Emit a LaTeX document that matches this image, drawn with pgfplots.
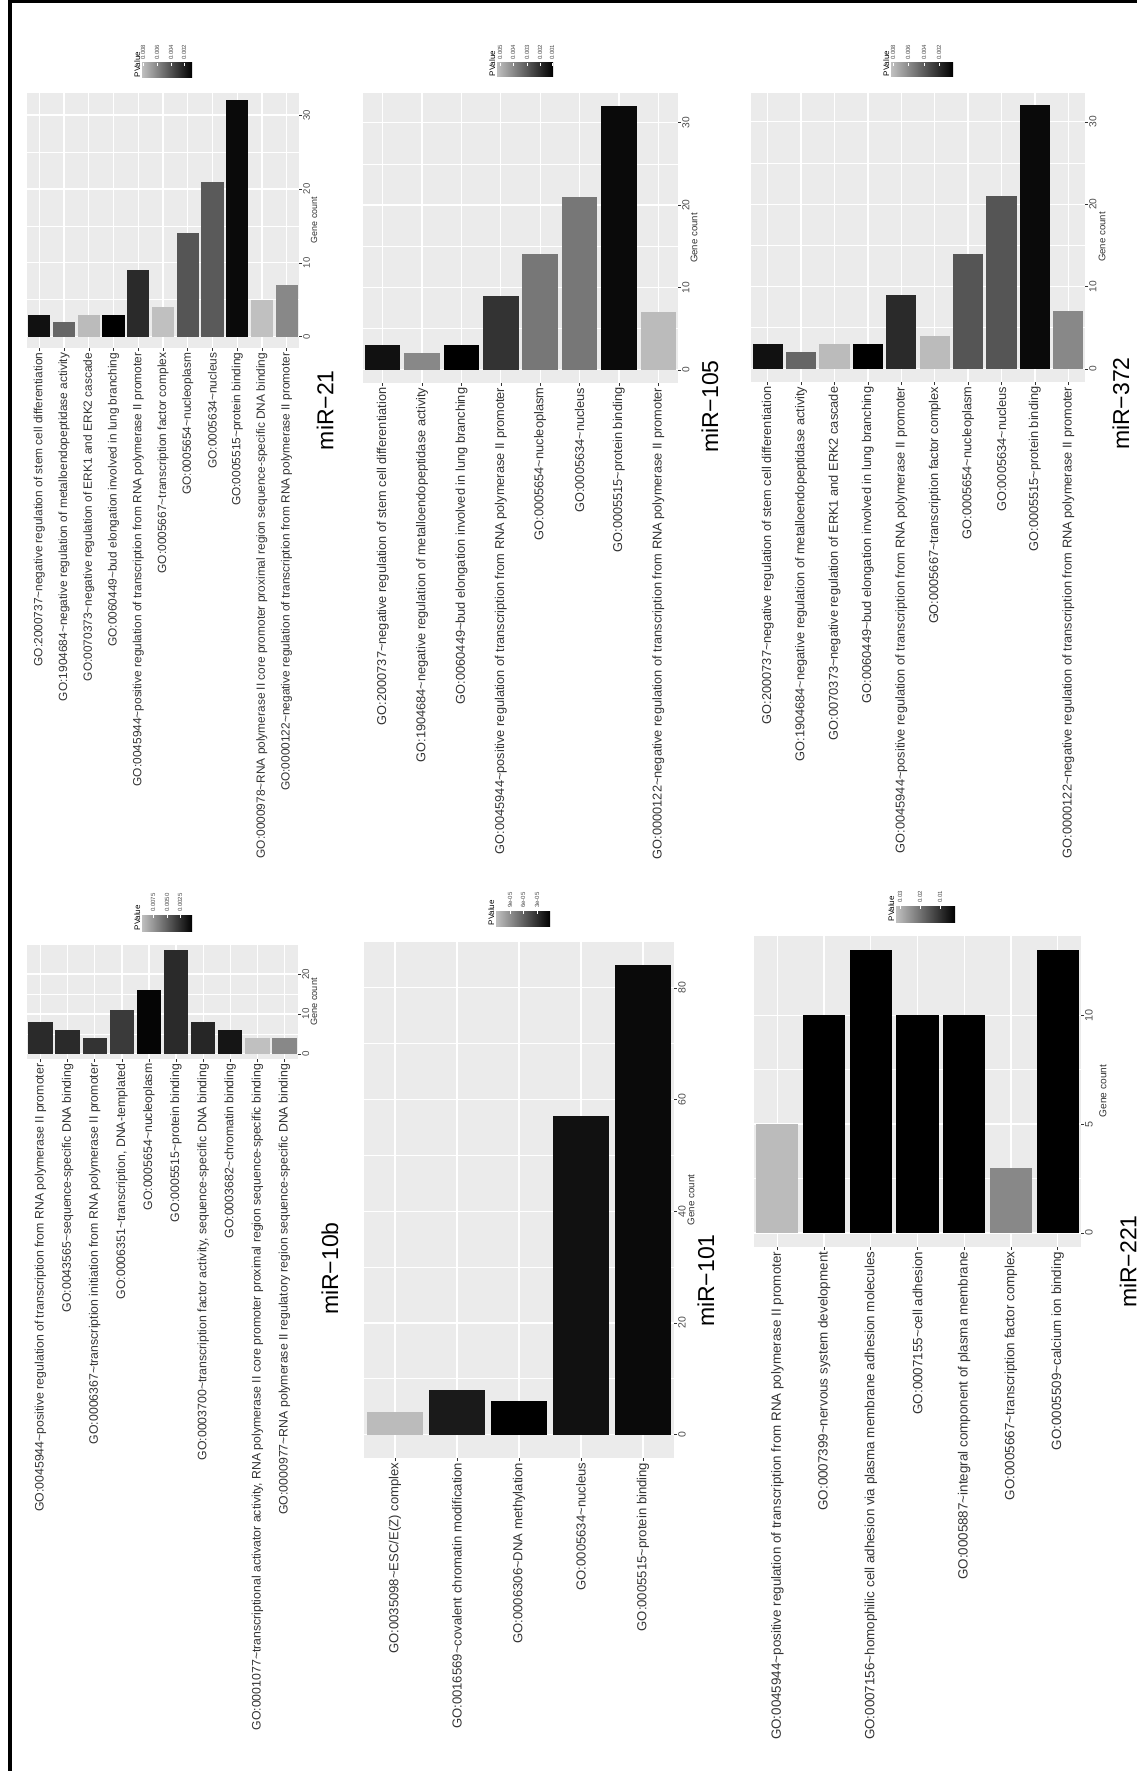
\documentclass[border=0pt]{standalone}
\usepackage{fontspec}
\setmainfont{Liberation Sans}
\usepackage{pgfplots}
\pgfplotsset{compat=1.18}
\definecolor{panelbg}{HTML}{EBEBEB}
\definecolor{labc}{HTML}{333333}
\definecolor{g4d}{HTML}{4D4D4D}
\definecolor{g00}{HTML}{000000}
\definecolor{g05}{HTML}{050505}
\definecolor{g0a}{HTML}{0A0A0A}
\definecolor{g11}{HTML}{111111}
\definecolor{g15}{HTML}{151515}
\definecolor{g1a}{HTML}{1A1A1A}
\definecolor{g26}{HTML}{262626}
\definecolor{g2a}{HTML}{2A2A2A}
\definecolor{g33}{HTML}{333333}
\definecolor{g3a}{HTML}{3A3A3A}
\definecolor{g55}{HTML}{555555}
\definecolor{g5a}{HTML}{5A5A5A}
\definecolor{g66}{HTML}{666666}
\definecolor{g77}{HTML}{777777}
\definecolor{g88}{HTML}{888888}
\definecolor{gbb}{HTML}{BBBBBB}
\definecolor{gbe}{HTML}{C0C0C0}
\newcommand{\T}{\textasciitilde}
\pgfplotsset{
 gg/.style 2 args={scale only axis, anchor=south west,
  axis background/.style={fill=panelbg},
  axis line style={draw=none}, enlargelimits=false,
  xmajorgrids, ymajorgrids, yminorgrids, minor y tick num=1,
  major grid style={white, line width=1.3pt},
  minor grid style={white, line width=0.6pt},
  tick style={labc, line width=0.6pt}, major tick length=3pt,
  minor tick length=0pt, tick align=outside,
  xtick pos=left, ytick pos=right, yticklabel pos=right,
  xticklabel style={rotate=90, anchor=east, font=\fontsize{#1}{#1}\selectfont, text=labc, inner sep=1.5pt},
  yticklabel style={rotate=90, anchor=north, font=\fontsize{#2}{#2}\selectfont, text=g4d, inner sep=1pt},
  /pgf/number format/assume math mode=true,
 },
 gb/.style={ybar, bar width=0.9, bar shift=0pt, draw=none},
}
\newcommand{\gc}[3]{\node[rotate=90, font=\fontsize{#3}{#3}\selectfont, text=labc] at (#1,-#2) {Gene count};}
\newcommand{\ttl}[3]{\node[rotate=90, anchor=east, font=\fontsize{23}{26}\selectfont, inner sep=0pt] at (#1,-#2) {#3};}
\newcommand{\pv}[2]{\node[rotate=90, anchor=south west, font=\fontsize{8}{9}\selectfont, inner sep=0.5pt] at (#1,-#2) {PValue};}
\newcommand{\lt}[3]{\node[rotate=90, anchor=west, font=\fontsize{6}{7}\selectfont, text=g4d, inner sep=1pt] at (#1,-#2) {#3};
 \draw[white, line width=0.5pt] (#1,-#2-2) -- (#1,-#2-5);}
\begin{document}
\begin{tikzpicture}
\begin{scope}[x=1pt,y=1pt]
\useasboundingbox (0,0) rectangle (1137,-1771);
\fill[white] (0,0) rectangle (1137,-1771);
\draw[black, line width=3.4pt] (10,-1771) -- (10,-1.4) -- (1137,-1.4);
\end{scope}

% ---------------- miR-21
\begin{axis}[gg={11.9}{9.5}, at={(27pt,-348pt)}, width=272pt, height=255pt,
 xmin=0.5, xmax=11.5, ymin=-1.53, ymax=32.98, xtick={1,...,11}, ytick={0,10,20,30},
 xticklabels={{GO:2000737\T negative regulation of stem cell differentiation},
 {GO:1904684\T negative regulation of metalloendopeptidase activity},
 {GO:0070373\T negative regulation of ERK1 and ERK2 cascade},
 {GO:0060449\T bud elongation involved in lung branching},
 {GO:0045944\T positive regulation of transcription from RNA polymerase II promoter},
 {GO:0005667\T transcription factor complex},
 {GO:0005654\T nucleoplasm},
 {GO:0005634\T nucleus},
 {GO:0005515\T protein binding},
 {GO:0000978\T RNA polymerase II core promoter proximal region sequence-specific DNA binding},
 {GO:0000122\T negative regulation of transcription from RNA polymerase II promoter}}]
\addplot[gb, fill=g11] coordinates {(1,3)};
\addplot[gb, fill=g66] coordinates {(2,2)};
\addplot[gb, fill=gbb] coordinates {(3,3)};
\addplot[gb, fill=g00] coordinates {(4,3)};
\addplot[gb, fill=g2a] coordinates {(5,9)};
\addplot[gb, fill=gbe] coordinates {(6,4)};
\addplot[gb, fill=g55] coordinates {(7,14)};
\addplot[gb, fill=g5a] coordinates {(8,21)};
\addplot[gb, fill=g0a] coordinates {(9,32)};
\addplot[gb, fill=gbe] coordinates {(10,5)};
\addplot[gb, fill=g88] coordinates {(11,7)};
\end{axis}

% ---------------- miR-105
\begin{axis}[gg={12.8}{10.2}, at={(363pt,-383pt)}, width=315pt, height=290pt,
 xmin=0.5, xmax=8.5, ymin=-1.6, ymax=33.6, xtick={1,...,8}, ytick={0,10,20,30},
 xticklabels={{GO:2000737\T negative regulation of stem cell differentiation},
 {GO:1904684\T negative regulation of metalloendopeptidase activity},
 {GO:0060449\T bud elongation involved in lung branching},
 {GO:0045944\T positive regulation of transcription from RNA polymerase II promoter},
 {GO:0005654\T nucleoplasm},
 {GO:0005634\T nucleus},
 {GO:0005515\T protein binding},
 {GO:0000122\T negative regulation of transcription from RNA polymerase II promoter}}]
\addplot[gb, fill=g11] coordinates {(1,3)};
\addplot[gb, fill=g88] coordinates {(2,2)};
\addplot[gb, fill=g00] coordinates {(3,3)};
\addplot[gb, fill=g33] coordinates {(4,9)};
\addplot[gb, fill=g77] coordinates {(5,14)};
\addplot[gb, fill=g77] coordinates {(6,21)};
\addplot[gb, fill=g0a] coordinates {(7,32)};
\addplot[gb, fill=gbb] coordinates {(8,7)};
\end{axis}

% ---------------- miR-372
\begin{axis}[gg={12.8}{10.2}, at={(751pt,-382pt)}, width=334pt, height=289pt,
 xmin=0.5, xmax=10.5, ymin=-1.6, ymax=33.5, xtick={1,...,10}, ytick={0,10,20,30},
 xticklabels={{GO:2000737\T negative regulation of stem cell differentiation},
 {GO:1904684\T negative regulation of metalloendopeptidase activity},
 {GO:0070373\T negative regulation of ERK1 and ERK2 cascade},
 {GO:0060449\T bud elongation involved in lung branching},
 {GO:0045944\T positive regulation of transcription from RNA polymerase II promoter},
 {GO:0005667\T transcription factor complex},
 {GO:0005654\T nucleoplasm},
 {GO:0005634\T nucleus},
 {GO:0005515\T protein binding},
 {GO:0000122\T negative regulation of transcription from RNA polymerase II promoter}}]
\addplot[gb, fill=g11] coordinates {(1,3)};
\addplot[gb, fill=g66] coordinates {(2,2)};
\addplot[gb, fill=gbb] coordinates {(3,3)};
\addplot[gb, fill=g00] coordinates {(4,3)};
\addplot[gb, fill=g2a] coordinates {(5,9)};
\addplot[gb, fill=gbb] coordinates {(6,4)};
\addplot[gb, fill=g55] coordinates {(7,14)};
\addplot[gb, fill=g55] coordinates {(8,21)};
\addplot[gb, fill=g0a] coordinates {(9,32)};
\addplot[gb, fill=g88] coordinates {(10,7)};
\end{axis}

% ---------------- miR-10b
\begin{axis}[gg={12.3}{9.8}, at={(27pt,-1059pt)}, width=271pt, height=114pt,
 xmin=0.5, xmax=10.5, ymin=-1.3, ymax=27.3, xtick={1,...,10}, ytick={0,10,20},
 xticklabels={{GO:0045944\T positive regulation of transcription from RNA polymerase II promoter},
 {GO:0043565\T sequence-specific DNA binding},
 {GO:0006367\T transcription initiation from RNA polymerase II promoter},
 {GO:0006351\T transcription, DNA-templated},
 {GO:0005654\T nucleoplasm},
 {GO:0005515\T protein binding},
 {GO:0003700\T transcription factor activity, sequence-specific DNA binding},
 {GO:0003682\T chromatin binding},
 {GO:0001077\T transcriptional activator activity, RNA polymerase II core promoter proximal region sequence-specific binding},
 {GO:0000977\T RNA polymerase II regulatory region sequence-specific DNA binding}}]
\addplot[gb, fill=g2a] coordinates {(1,8)};
\addplot[gb, fill=g2a] coordinates {(2,6)};
\addplot[gb, fill=g33] coordinates {(3,4)};
\addplot[gb, fill=g3a] coordinates {(4,11)};
\addplot[gb, fill=g05] coordinates {(5,16)};
\addplot[gb, fill=g2a] coordinates {(6,26)};
\addplot[gb, fill=g26] coordinates {(7,8)};
\addplot[gb, fill=g15] coordinates {(8,6)};
\addplot[gb, fill=gbe] coordinates {(9,4)};
\addplot[gb, fill=g88] coordinates {(10,4)};
\end{axis}

% ---------------- miR-101
\begin{axis}[gg={13.1}{10.5}, at={(364pt,-1458pt)}, width=310pt, height=516pt,
 xmin=0.5, xmax=5.5, ymin=-4.2, ymax=88.2, xtick={1,...,5}, ytick={0,20,40,60,80},
 xticklabels={{GO:0035098\T ESC/E(Z) complex},
 {GO:0016569\T covalent chromatin modification},
 {GO:0006306\T DNA methylation},
 {GO:0005634\T nucleus},
 {GO:0005515\T protein binding}}]
\addplot[gb, fill=gbb] coordinates {(1,4)};
\addplot[gb, fill=g1a] coordinates {(2,8)};
\addplot[gb, fill=g00] coordinates {(3,6)};
\addplot[gb, fill=g11] coordinates {(4,57)};
\addplot[gb, fill=g0a] coordinates {(5,84)};
\end{axis}

% ---------------- miR-221
\begin{axis}[gg={13.4}{10.8}, at={(754pt,-1247pt)}, width=327pt, height=311pt,
 xmin=0.5, xmax=7.5, ymin=-0.65, ymax=13.65, xtick={1,...,7}, ytick={0,5,10},
 xticklabels={{GO:0045944\T positive regulation of transcription from RNA polymerase II promoter},
 {GO:0007399\T nervous system development},
 {GO:0007156\T homophilic cell adhesion via plasma membrane adhesion molecules},
 {GO:0007155\T cell adhesion},
 {GO:0005887\T integral component of plasma membrane},
 {GO:0005667\T transcription factor complex},
 {GO:0005509\T calcium ion binding}}]
\addplot[gb, fill=gbb] coordinates {(1,5)};
\addplot[gb, fill=g00] coordinates {(2,10)};
\addplot[gb, fill=g00] coordinates {(3,13)};
\addplot[gb, fill=g00] coordinates {(4,10)};
\addplot[gb, fill=g00] coordinates {(5,10)};
\addplot[gb, fill=g88] coordinates {(6,3)};
\addplot[gb, fill=g00] coordinates {(7,13)};
\end{axis}

\begin{scope}[x=1pt,y=1pt]
% axis titles
\gc{314}{220}{8.9} \gc{694}{238}{9.6} \gc{1102}{237}{9.6}
\gc{314}{1002}{9.2} \gc{691}{1200}{9.8} \gc{1103}{1091}{10.1}

% panel titles
\ttl{325}{370}{miR−21}
\ttl{710}{360}{miR−105}
\ttl{1121}{357}{miR−372}
\ttl{330}{1222}{miR−10b}
\ttl{706}{1234}{miR−101}
\ttl{1128}{1215}{miR−221}

% legends (colour bars)
\shade[left color=gbe, right color=black] (142,-63) rectangle (192,-78);
\pv{141}{78}
\lt{143}{61}{0.008}\lt{157}{61}{0.006}\lt{171}{61}{0.004}\lt{184}{61}{0.002}

\shade[left color=gbe, right color=black] (497,-63) rectangle (553,-77);
\pv{496}{77}
\lt{500}{61}{0.005}\lt{513}{61}{0.004}\lt{527}{61}{0.003}\lt{540}{61}{0.002}\lt{552}{61}{0.001}

\shade[left color=gbe, right color=black] (891,-63) rectangle (953,-77);
\pv{890}{77}
\lt{893}{61}{0.008}\lt{908}{61}{0.006}\lt{924}{61}{0.004}\lt{939}{61}{0.002}

\shade[left color=gbe, right color=black] (142,-915) rectangle (192,-931);
\pv{141}{931}
\lt{153}{913}{0.0075}\lt{167}{913}{0.0050}\lt{180}{913}{0.0025}

\shade[left color=gbe, right color=black] (496,-911) rectangle (550,-926);
\pv{495}{926}
\lt{510}{909}{9e-05}\lt{523}{909}{6e-05}\lt{537}{909}{3e-05}

\shade[left color=gbe, right color=black] (896,-906) rectangle (955,-922);
\pv{895}{922}
\lt{900}{904}{0.03}\lt{920}{904}{0.02}\lt{940}{904}{0.01}
\end{scope}
\end{tikzpicture}
\end{document}
